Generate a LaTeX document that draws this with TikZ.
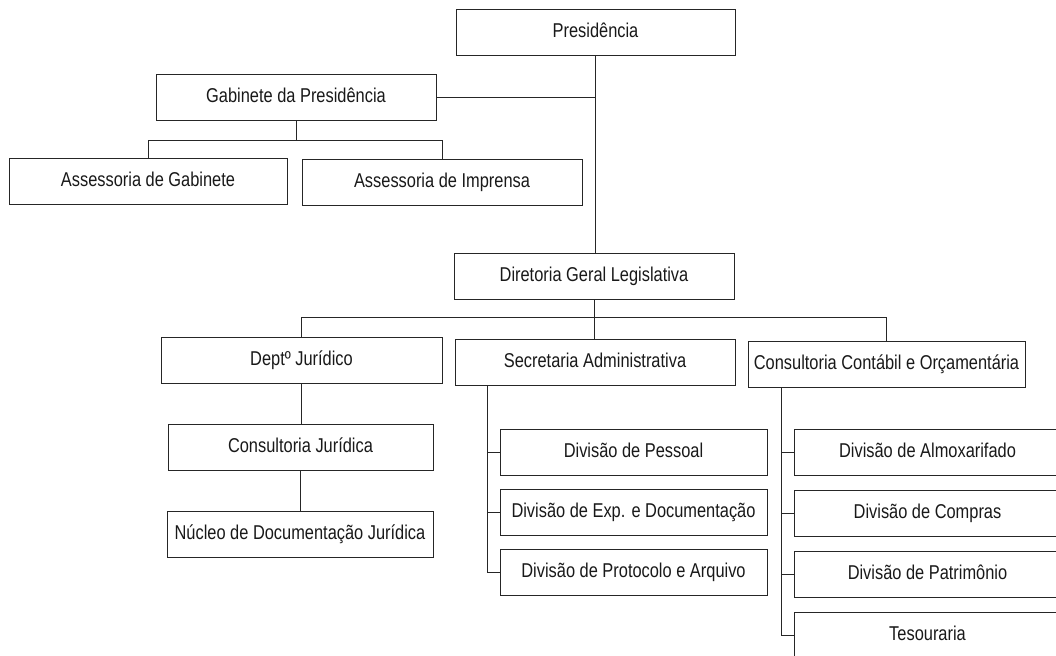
\documentclass[tikz,border=0pt]{standalone}
\usepackage{fontspec}
\setmainfont{Liberation Sans}[FakeStretch=0.82]
\usetikzlibrary{positioning, calc}

\tikzset{
    unit/.style={draw=black!85, line width=0.8pt, minimum height=46pt, inner sep=0pt,
        text height=14pt, text depth=3.5pt, text=black!90,
        font=\fontsize{20}{24}\selectfont},
    link/.style={draw=black!85, line width=0.8pt}
}

\begin{document}
\begin{tikzpicture}[x=1pt, y=-1pt]
    \useasboundingbox (0,0) rectangle (1056,655);

    % boxes
    \foreach \name/\cx/\cy/\w/\txt in {
        pres/595.5/32.5/279/Presidência,
        gab/296/97/280/Gabinete da Presidência,
        assgab/148/181/278/Assessoria de Gabinete,
        assimp/442/182/280/Assessoria de Imprensa,
        dir/594/276/280/Diretoria Geral Legislativa,
        dept/301.5/360/281/Deptº Jurídico,
        sec/595/362/280/Secretaria Administrativa,
        cont/886.5/364/277/Consultoria Contábil e Orçamentária,
        cjur/300.5/447/265/Consultoria Jurídica,
        nucleo/300/534.5/266/Núcleo de Documentação Jurídica,
        dpes/633.5/452/267/Divisão de Pessoal,
        dexp/633.5/512/267/Divisão de Exp. e Documentação,
        dpro/633.5/572/267/Divisão de Protocolo e Arquivo,
        dalm/927.5/452.5/267/Divisão de Almoxarifado,
        dcom/927.5/513/267/Divisão de Compras,
        dpat/927.5/574.5/267/Divisão de Patrimônio,
        tes/927.5/635.5/267/Tesouraria}
    {
        \node[unit, minimum width=\w pt] (\name) at (\cx,\cy) {\txt};
    }

    % presidencia trunk
    \draw[link] (pres.south) -- (pres.south |- dir.north);
    \draw[link] (gab.east) -- (gab.east -| pres.south);

    % gabinete bus
    \coordinate (gabbus) at ($(gab.south)+(0,20)$);
    \draw[link] (gab.south) -- (gabbus);
    \draw[link] (assgab.north) |- (gabbus) -| (assimp.north);

    % diretoria bus
    \coordinate (dirbus) at ($(dir.south)+(0,18)$);
    \draw[link] (dir.south) -- (dir.south |- sec.north);
    \draw[link] (dept.north) |- (dirbus) -| (cont.north);

    % juridico chain
    \draw[link] (dept.south) -- (dept.south |- cjur.north);
    \draw[link] (cjur.south) -- (cjur.south |- nucleo.north);

    % secretaria tree
    \coordinate (sectop) at ($(sec.south -| dpes.west)+(-12,0)$);
    \draw[link] (sectop) |- (dpro.west);
    \foreach \d in {dpes,dexp}
    {
        \draw[link] (\d.west) -- (\d.west -| sectop);
    }

    % consultoria tree
    \coordinate (conttop) at ($(cont.south -| dalm.west)+(-12,0)$);
    \draw[link] (conttop) |- (tes.west);
    \foreach \d in {dalm,dcom,dpat}
    {
        \draw[link] (\d.west) -- (\d.west -| conttop);
    }
\end{tikzpicture}
\end{document}
